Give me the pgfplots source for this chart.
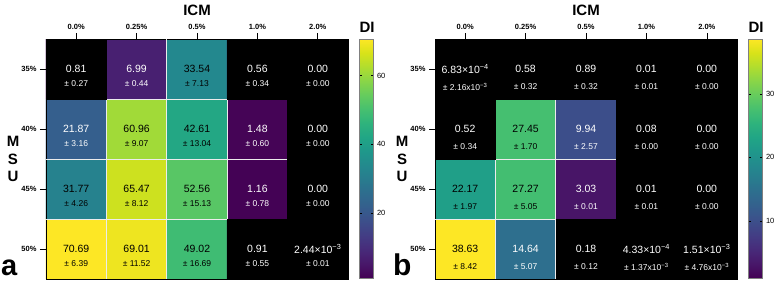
\documentclass[border=0pt]{standalone}
\usepackage{pgfplots}
\pgfplotsset{compat=1.18}
\usepackage{pgfplotstable}
\usepackage{fontspec}
\setmainfont{Liberation Sans}

% tc: 100 = white text, 0 = black text
\pgfplotstableread[col sep=comma]{
x,y,v,val,err,tc
0,0,70.69,70.69,± 6.39,0
1,0,69.01,69.01,± 11.52,0
2,0,49.02,49.02,± 16.69,0
3,0,0.91,0.91,± 0.55,100
4,0,0.00244,2.44×10\textsuperscript{−3},± 0.01,100
0,1,31.77,31.77,± 4.26,0
1,1,65.47,65.47,± 8.12,0
2,1,52.56,52.56,± 15.13,0
3,1,1.16,1.16,± 0.78,100
4,1,0.00,0.00,± 0.00,100
0,2,21.87,21.87,± 3.16,100
1,2,60.96,60.96,± 9.07,0
2,2,42.61,42.61,± 13.04,0
3,2,1.48,1.48,± 0.60,100
4,2,0.00,0.00,± 0.00,100
0,3,0.81,0.81,± 0.27,100
1,3,6.99,6.99,± 0.44,100
2,3,33.54,33.54,± 7.13,0
3,3,0.56,0.56,± 0.34,100
4,3,0.00,0.00,± 0.00,100
}\tabA

\pgfplotstableread[col sep=comma]{
x,y,v,val,err,tc
0,0,38.63,38.63,± 8.42,0
1,0,14.64,14.64,± 5.07,100
2,0,0.18,0.18,± 0.12,100
3,0,0.000433,4.33×10\textsuperscript{−4},± 1.37x10\textsuperscript{−3},100
4,0,0.00151,1.51×10\textsuperscript{−3},± 4.76x10\textsuperscript{−3},100
0,1,22.17,22.17,± 1.97,0
1,1,27.27,27.27,± 5.05,0
2,1,3.03,3.03,± 0.01,100
3,1,0.01,0.01,± 0.01,100
4,1,0.00,0.00,± 0.00,100
0,2,0.52,0.52,± 0.34,100
1,2,27.45,27.45,± 1.70,0
2,2,9.94,9.94,± 2.57,100
3,2,0.08,0.08,± 0.00,100
4,2,0.00,0.00,± 0.00,100
0,3,0.000683,6.83×10\textsuperscript{−4},± 2.16x10\textsuperscript{−3},100
1,3,0.58,0.58,± 0.32,100
2,3,0.89,0.89,± 0.32,100
3,3,0.01,0.01,± 0.01,100
4,3,0.00,0.00,± 0.00,100
}\tabB

\pgfplotsset{
  hm/.style={
    scale only axis, width=302pt, height=240pt,
    xmin=-0.5, xmax=4.5, ymin=-0.5, ymax=3.5,
    xtick={0,1,2,3,4}, xticklabels={0.0\%,0.25\%,0.5\%,1.0\%,2.0\%},
    ytick={0,1,2,3}, yticklabels={50\%,45\%,40\%,35\%},
    xtick pos=right, xticklabel pos=right, ytick pos=left,
    tick align=outside, major tick length=6pt,
    tick style={black, line width=0.6pt},
    tick label style={font=\bfseries\fontsize{7.5}{8}\selectfont},
    axis line style={black, line width=0.8pt},
    axis on top,
    extra x ticks={0.5,1.5,2.5,3.5}, extra x tick labels={},
    extra x tick style={grid=major, major tick length=0pt, major grid style={white!85!gray, line width=0.9pt}},
    extra y ticks={0.5,1.5,2.5}, extra y tick labels={},
    extra y tick style={grid=major, major tick length=0pt, major grid style={white!85!gray, line width=0.9pt}},
    colormap/viridis,
    title={ICM},
    title style={at={(0.5,1)}, anchor=center, yshift=23pt, font=\bfseries\fontsize{15}{15}\selectfont},
    colorbar,
  },
  cbar/.style={
    at={(parent axis.north east)}, anchor=north west, xshift=3pt,
    scale only axis, width=14pt, height=239pt,
    ytick pos=both, yticklabel pos=right, tick align=inside,
    major tick length=2.5pt,
    tick style={black, line width=0.5pt},
    yticklabel style={font=\fontsize{7.5}{8}\selectfont},
    /pgf/number format/assume math mode=true,
    axis line style={gray, line width=0.5pt},
  },
  valtxt/.style={only marks, mark=none, point meta=explicit symbolic,
    nodes near coords, nodes near coords align=center,
    visualization depends on={\thisrow{tc}\as\tcol},
    every node near coord/.append style={text=white!\tcol!black, inner sep=0pt, anchor=center, font=\fontsize{10.5}{12}\selectfont}},
  errtxt/.style={only marks, mark=none, point meta=explicit symbolic,
    nodes near coords, nodes near coords align=center,
    visualization depends on={\thisrow{tc}\as\tcol},
    every node near coord/.append style={text=white!\tcol!black, inner sep=0pt, anchor=center, font=\fontsize{8.5}{10}\selectfont}},
  blk/.style={only marks, mark=square*, mark size=30.2pt, mark options={fill=black, draw=none},
    restrict expr to domain={\thisrow{v}}{-1:0.999}},
}

\begin{document}
\begin{tikzpicture}[x=1pt,y=1pt]
\useasboundingbox (0,0) rectangle (777,281);

% Panel a
\begin{axis}[hm, at={(46pt,2pt)}, anchor=south west,
  point meta min=1, point meta max=70.69,
  colorbar style={cbar, ytick={20,40,60}}]
\addplot[matrix plot*, mesh/cols=5, point meta=explicit] table[x=x, y=y, meta=v]{\tabA};
\addplot[blk] table[x=x, y=y]{\tabA};
\addplot[valtxt] table[x=x, y=y, meta=val]{\tabA};
\addplot[errtxt] table[x=x, y expr=\thisrow{y}-0.25, meta=err]{\tabA};
\end{axis}

% Panel b
\begin{axis}[hm, at={(435pt,2pt)}, anchor=south west,
  point meta min=1, point meta max=38.63,
  colorbar style={cbar, ytick={10,20,30}}]
\addplot[matrix plot*, mesh/cols=5, point meta=explicit] table[x=x, y=y, meta=v]{\tabB};
\addplot[blk] table[x=x, y=y]{\tabB};
\addplot[valtxt] table[x=x, y=y, meta=val]{\tabB};
\addplot[errtxt] table[x=x, y expr=\thisrow{y}-0.3, meta=err]{\tabB};
\end{axis}

\node[font=\bfseries\fontsize{15}{15}\selectfont, inner sep=0pt] at (367,254) {DI};
\node[font=\bfseries\fontsize{15}{15}\selectfont, inner sep=0pt] at (756,254) {DI};
\node[font=\bfseries\fontsize{15}{17.5}\selectfont, align=center] at (13,122) {M\\S\\U};
\node[font=\bfseries\fontsize{15}{17.5}\selectfont, align=center] at (402,122) {M\\S\\U};
\node[anchor=base west, inner sep=0pt, font=\bfseries\fontsize{29}{29}\selectfont] at (1,5) {a};
\node[anchor=base west, inner sep=0pt, font=\bfseries\fontsize{30}{30}\selectfont] at (393,5) {b};
\end{tikzpicture}
\end{document}
